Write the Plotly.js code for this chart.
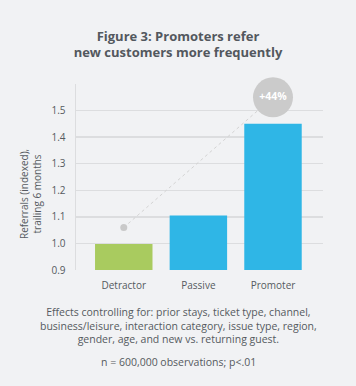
<!DOCTYPE html>
<html>
<head>
<meta charset="utf-8">
<script src="https://cdn.plot.ly/plotly-3.0.1.min.js"></script>
<style>html,body{margin:0;padding:0;background:#f1f2f4;}#chart{width:356px;height:386px;}</style>
</head>
<body>
<div id="chart"></div>
<script>
var categories = ["Detractor", "Passive", "Promoter"];
var referrals = [0.998, 1.105, 1.45];
var barColors = ["#a9cb5f", "#2fb6e6", "#2fb6e6"];
var markerPoint = [1.06, 1.55];
var markerLabel = "+44%";
var yTickVals = [0.9, 1.0, 1.1, 1.2, 1.3, 1.4, 1.5, 1.6];
var yTickText = ["0.9", "1.0", "1.1", "1.2", "1.3", "1.4", "1.5", ""];
var titleText = "Figure 3: Promoters refer<br>new customers more frequently";
var yTitleText = "Referrals (indexed),<br>trailing 6 months";
var noteText = "Effects controlling for: prior stays, ticket type, channel,<br>business/leisure, interaction category, issue type, region,<br>gender, age, and new vs. returning guest.";
var nText = "n = 600,000 observations; p<.01";

var FONT = "Open Sans, sans-serif";
var TXT = "#555a60";

var traces = [
  {type: "bar", x: categories, y: referrals, width: 0.77,
   marker: {color: barColors, line: {width: 0}}, hoverinfo: "skip"},
  {type: "scatter", mode: "lines", x: [categories[0], categories[2]], y: markerPoint,
   line: {color: "#d3d3d3", width: 1, dash: "dot"}, hoverinfo: "skip", cliponaxis: false},
  {type: "scatter", mode: "markers", x: [categories[0]], y: [markerPoint[0]],
   marker: {color: "#c9c9c9", size: 7}, hoverinfo: "skip"},
  {type: "scatter", mode: "markers+text", x: [categories[2]], y: [markerPoint[1]], cliponaxis: false,
   marker: {color: "#cbcbcb", size: 40}, text: [markerLabel], textposition: "middle center",
   textfont: {family: FONT, size: 10.5, color: "#ffffff", weight: "bold"}, hoverinfo: "skip"}
];

var layout = {
  width: 356, height: 386,
  paper_bgcolor: "#f1f2f4", plot_bgcolor: "#f1f2f4",
  margin: {l: 76, r: 33, t: 84, b: 116},
  showlegend: false,
  font: {family: FONT, color: TXT},
  title: {text: titleText, x: 0.5, xanchor: "center", y: 0.895, yanchor: "top", yref: "container",
          font: {family: FONT, size: 13, color: "#53585e", weight: "bold"}},
  xaxis: {range: [-0.64, 2.67], showgrid: false, zeroline: false, showline: false,
          ticks: "", ticklabelstandoff: 8, tickfont: {size: 10, color: TXT}},
  yaxis: {range: [0.9, 1.6], tickvals: yTickVals, ticktext: yTickText,
          showgrid: true, gridcolor: "#dcdddf", gridwidth: 1.5, zeroline: false,
          showline: true, linecolor: "#dcdddf", linewidth: 1.5,
          ticks: "", ticklabelstandoff: 7, tickfont: {size: 10, color: TXT}},
  annotations: [
    {text: yTitleText, xref: "paper", yref: "paper", x: -0.185, y: 0.41, xanchor: "center", yanchor: "middle",
     textangle: -90, showarrow: false, font: {size: 10, color: TXT}},
    {text: noteText, xref: "paper", yref: "paper", x: (178 - 76) / 247, y: -0.18, xanchor: "center", yanchor: "top",
     showarrow: false, font: {size: 10.5, color: TXT}},
    {text: nText, xref: "paper", yref: "paper", x: (178 - 76) / 247, y: -0.445, xanchor: "center", yanchor: "top",
     showarrow: false, font: {size: 10.5, color: TXT}}
  ]
};

Plotly.newPlot("chart", traces, layout, {displayModeBar: false, staticPlot: true});
</script>
</body>
</html>
